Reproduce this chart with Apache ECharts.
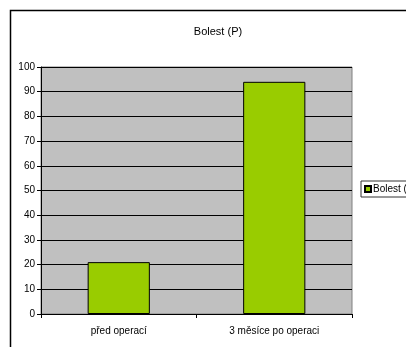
<!DOCTYPE html>
<html>
<head>
    <meta charset="UTF-8">
    <title>Bolest (P)</title>
    <script src="https://cdn.jsdelivr.net/npm/echarts@6/dist/echarts.min.js"></script>
    <style>
        html, body { margin: 0; padding: 0; background: #fff; }
        #main { width: 406px; height: 347px; }
    </style>
</head>
<body>
    <div id="main"></div>
    <script type="text/javascript">
        // data
        var categories = ['před operací', '3 měsíce po operaci'];
        var values = [21, 94];
        var seriesName = 'Bolest (P)';
        var yTicks = [0, 10, 20, 30, 40, 50, 60, 70, 80, 90, 100];

        var myChart = echarts.init(document.getElementById('main'));
        var font = 'Liberation Sans, Arial, sans-serif';

        myChart.setOption({
            animation: false,
            title: {
                text: 'Bolest (P)',
                left: 213,
                top: 21,
                textAlign: 'center',
                textStyle: { fontFamily: font, fontSize: 11, fontWeight: 'normal', color: '#000' }
            },
            legend: {
                left: 361,
                top: 181,
                orient: 'vertical',
                padding: [3, 4, 3, 3],
                borderColor: '#333',
                borderWidth: 1,
                itemWidth: 6,
                itemHeight: 6,
                itemGap: 2,
                icon: 'rect',
                textStyle: { fontFamily: font, fontSize: 10, color: '#000', padding: [0, 0, 0, -3] },
                data: [seriesName]
            },
            grid: {
                left: 41,
                right: 54,
                top: 67,
                bottom: 33,
                show: true,
                backgroundColor: '#c0c0c0',
                borderColor: '#808080',
                borderWidth: 1
            },
            xAxis: {
                type: 'category',
                data: categories,
                axisLine: { lineStyle: { color: '#000' } },
                axisTick: { show: true, length: 4, lineStyle: { color: '#000' } },
                axisLabel: { fontFamily: font, fontSize: 10, color: '#000', margin: 12 }
            },
            yAxis: {
                type: 'value',
                min: yTicks[0],
                max: yTicks[yTicks.length - 1],
                interval: 10,
                axisLine: { show: true, lineStyle: { color: '#000' } },
                axisTick: { show: true, length: 4, lineStyle: { color: '#000' } },
                axisLabel: { fontFamily: font, fontSize: 10, color: '#000', margin: 6 },
                splitLine: { show: true, lineStyle: { color: '#000', width: 1 } }
            },
            series: [{
                name: seriesName,
                type: 'bar',
                data: values,
                barCategoryGap: '60%',
                itemStyle: { color: '#99cc00', borderColor: '#000', borderWidth: 1 }
            }],
            graphic: [{
                type: 'rect',
                shape: { x: 10.5, y: 10.5, width: 420, height: 360 },
                style: { fill: 'none', stroke: '#000', lineWidth: 1.5 },
                silent: true
            }]
        });
    </script>
</body>
</html>
